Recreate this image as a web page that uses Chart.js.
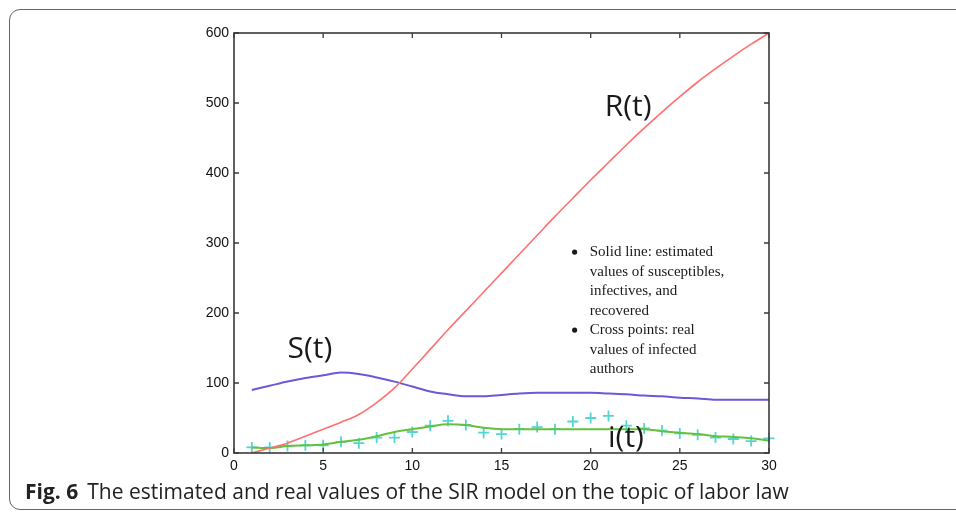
<!DOCTYPE html>
<html>
<head>
<meta charset="utf-8">
<script src="https://cdn.jsdelivr.net/npm/chart.js@4.4.1/dist/chart.umd.min.js"></script>
<style>
  html,body{margin:0;padding:0;background:#fff;width:956px;height:514px;overflow:hidden;}
  #wrap{position:absolute;left:0;top:0;width:956px;height:514px;}
  #frame{position:absolute;left:9px;top:9px;width:1000px;height:501px;border:1.5px solid #666;border-radius:11px;box-sizing:border-box;}
  #cv{position:absolute;left:0;top:0;}
  #cap{position:absolute;left:25px;top:481px;font-family:"Open Sans",sans-serif;font-size:21px;line-height:21px;color:#222;white-space:nowrap;}
  #cap b{font-weight:700;margin-right:9px;}
</style>
</head>
<body>
<div id="wrap">
  <div id="frame"></div>
  <canvas id="cv" width="956" height="514"></canvas>
  <div id="cap"><b>Fig. 6</b>The estimated and real values of the SIR model on the topic of labor law</div>
</div>
<script>
const tValues = [1,2,3,4,5,6,7,8,9,10,11,12,13,14,15,16,17,18,19,20,21,22,23,24,25,26,27,28,29,30];
const recoveredR = [0,7,14,24,34,44,55,72,93,120,148,176,203,230,257,284,311,338,364,390,415,440,464,487,509,530,549,567,584,600];
const susceptibleS = [90,96,102,107,111,115,113,108,102,95,88,84,81,81,83,85,86,86,86,86,85,84,82,81,79,78,76,76,76,76];
const infectedI = [8,7,10,11,12,16,19,24,30,34,38,41,40,36,34,34,34,34,34,34,34,34,34,31,29,27,24,23,21,18];
const realInfected = [8,8,10,11,11,16,14,22,22,30,39,46,40,29,27,34,37,34,45,50,53,39,35,32,28,26,22,20,17,21];
const xTicks = [0,5,10,15,20,25,30];
const yTicks = [0,100,200,300,400,500,600];
const curveLabels = [
  {text:'S(t)', t:4.26, v:148},
  {text:'R(t)', t:22.1, v:493},
  {text:'i(t)', t:21.98, v:21}
];
const noteLines = [
  {bullet:true, text:'Solid line: estimated'},
  {bullet:false, text:'values of susceptibles,'},
  {bullet:false, text:'infectives, and'},
  {bullet:false, text:'recovered'},
  {bullet:true, text:'Cross points: real'},
  {bullet:false, text:'values of infected'},
  {bullet:false, text:'authors'}
];

const toXY = (ys) => tValues.map((t,i)=>({x:t, y:ys[i]}));

const boxPlugin = {
  id:'boxPlugin',
  afterDraw(chart){
    const {ctx, chartArea:a, scales:{x, y}} = chart;
    ctx.save();
    ctx.strokeStyle = '#3a3a3a';
    ctx.lineWidth = 1.6;
    ctx.strokeRect(a.left, a.top, a.right-a.left, a.bottom-a.top);
    ctx.lineWidth = 1.3;
    const L = 5;
    ctx.beginPath();
    xTicks.forEach(v=>{
      const px = x.getPixelForValue(v);
      ctx.moveTo(px, a.bottom); ctx.lineTo(px, a.bottom-L);
      ctx.moveTo(px, a.top); ctx.lineTo(px, a.top+L);
    });
    yTicks.forEach(v=>{
      const py = y.getPixelForValue(v);
      ctx.moveTo(a.left, py); ctx.lineTo(a.left+L, py);
      ctx.moveTo(a.right, py); ctx.lineTo(a.right-L, py);
    });
    ctx.stroke();

    ctx.fillStyle = '#1a1a1a';
    ctx.font = '30px "Open Sans", sans-serif';
    ctx.textAlign = 'center';
    ctx.textBaseline = 'middle';
    curveLabels.forEach(l=>{
      ctx.fillText(l.text, x.getPixelForValue(l.t), y.getPixelForValue(l.v));
    });

    ctx.font = '15px "Liberation Serif", serif';
    ctx.textAlign = 'left';
    const tx = x.getPixelForValue(19.95);
    const bx = x.getPixelForValue(19.1);
    let ty = y.getPixelForValue(287);
    noteLines.forEach(n=>{
      if(n.bullet){
        ctx.beginPath(); ctx.arc(bx, ty, 2.6, 0, Math.PI*2); ctx.fill();
      }
      ctx.fillText(n.text, tx, ty);
      ty += 19.5;
    });
    ctx.restore();
  }
};

new Chart(document.getElementById('cv'), {
  type:'line',
  data:{
    datasets:[
      {label:'R(t)', data:toXY(recoveredR), borderColor:'#ff7070', borderWidth:1.6, pointRadius:0, cubicInterpolationMode:'monotone', fill:false},
      {label:'S(t)', data:toXY(susceptibleS), borderColor:'#6a5ad8', borderWidth:2, pointRadius:0, cubicInterpolationMode:'monotone', fill:false},
      {label:'i(t)', data:toXY(infectedI), borderColor:'#62c23c', borderWidth:2, pointRadius:0, cubicInterpolationMode:'monotone', fill:false},
      {label:'real', data:toXY(realInfected), showLine:false, pointStyle:'cross', pointRadius:5.5, pointBorderColor:'#55d4d4', pointBorderWidth:1.8, pointBackgroundColor:'#55d4d4', clip:false}
    ]
  },
  options:{
    responsive:false,
    animation:false,
    events:[],
    layout:{padding:{left:0, right:187, top:33, bottom:0}},
    plugins:{legend:{display:false}, tooltip:{enabled:false}},
    scales:{
      x:{type:'linear', min:0, max:30,
         afterBuildTicks:(s)=>{s.ticks = xTicks.map(v=>({value:v}));},
         afterFit:(s)=>{s.height = 61;},
         grid:{display:false, drawTicks:false}, border:{display:false},
         ticks:{padding:5, color:'#111', font:{family:'"Liberation Sans", Arial, sans-serif', size:14}}},
      y:{type:'linear', min:0, max:600,
         afterBuildTicks:(s)=>{s.ticks = yTicks.map(v=>({value:v}));},
         afterFit:(s)=>{s.width = 234;},
         grid:{display:false, drawTicks:false}, border:{display:false},
         ticks:{padding:5, color:'#111', font:{family:'"Liberation Sans", Arial, sans-serif', size:14}}}
    }
  },
  plugins:[boxPlugin]
});
</script>
</body>
</html>
